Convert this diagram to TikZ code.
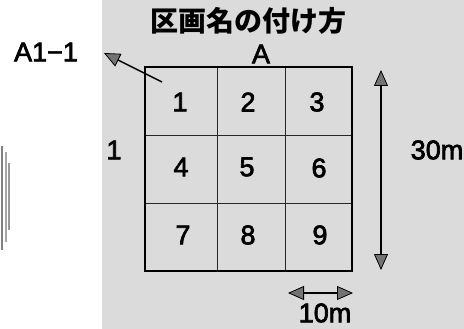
\documentclass[tikz,border=0pt]{standalone}
\usepackage{fontspec}
\setmainfont{Liberation Sans}[BoldFont=Liberation Sans, BoldFeatures={FakeBold=2.5}]
\newfontfamily\jpfont{Noto Sans CJK JP}
\usetikzlibrary{arrows.meta}
\definecolor{tipgray}{gray}{0.45}
\definecolor{bggray}{gray}{0.86}
\tikzset{gtri/.tip={Triangle[length=16pt,width=14pt,fill=tipgray,line width=0.8pt]}}
\begin{document}
\begin{tikzpicture}[x=1pt,y=-1pt,
  lbl/.style={font=\bfseries\fontsize{27}{27}\selectfont, inner sep=0pt},
  cellnum/.style={font=\bfseries\fontsize{27}{27}\selectfont, inner sep=0pt},
  dim/.style={line width=1.2pt, {gtri}-{gtri}},
  artifact/.style={line width=1.2pt, gray}]
\useasboundingbox (0,0) rectangle (464,329);
% textured background
\fill[bggray] (102,0) rectangle (464,329);
% scan artifacts at left
\draw[artifact] (2,146) -- (2,250);
\draw[artifact, gray!70] (6,152) -- (6,242);
\draw[artifact, gray!80] (9,163) -- (9,230);
% title
\node[inner sep=0pt, font=\jpfont\bfseries\fontsize{28}{28}\selectfont] (title) at (248,21) {区画名の付け方};
% grid
\coordinate (tl) at (145,67);
\coordinate (br) at (352,271);
\draw[line width=0.8pt, black!85] (217,67) -- (217,271) (285,67) -- (285,271)
  (145,135) -- (352,135) (145,203) -- (352,203);
\draw[line width=2.2pt] (tl) rectangle (br);
% cell numbers
\node[cellnum] (n1) at (180,102) {1};
\node[cellnum] (n2) at (248,102) {2};
\node[cellnum] (n3) at (317,102) {3};
\node[cellnum] (n4) at (181,167) {4};
\node[cellnum] (n5) at (247,167) {5};
\node[cellnum] (n6) at (319,168) {6};
\node[cellnum] (n7) at (183,235) {7};
\node[cellnum] (n8) at (248,235) {8};
\node[cellnum] (n9) at (320,235) {9};
% labels
\node[lbl] (A) at (261,54) {A};
\node[lbl] (A11) at (46,52) {A1−1};
\node[lbl] (one) at (114,150) {1};
\node[lbl] (thirty) at (437,150) {30m};
\node[lbl] (ten) at (325,313) {10m};
% arrows
\coordinate (a1tail) at (162,82);
\coordinate (a1tip) at (104,53);
\draw[line width=1.5pt, -{gtri}] (a1tail) -- (a1tip);
\coordinate (vtop) at (381,70);
\coordinate (vbot) at (381,270);
\draw[dim] (vtop) -- (vbot);
\coordinate (hl) at (288,293);
\coordinate (hr) at (353,293);
\draw[dim] (hl) -- (hr);
\end{tikzpicture}
\end{document}
